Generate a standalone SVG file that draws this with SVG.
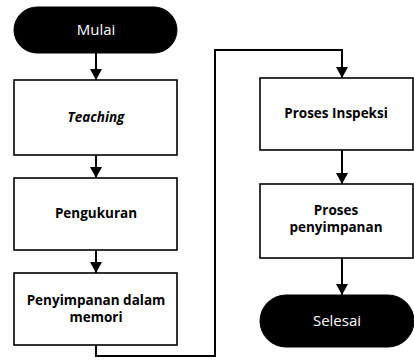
<svg xmlns="http://www.w3.org/2000/svg" width="414" height="360" viewBox="0 0 414 360">
<defs>
<marker id="ah" markerWidth="14" markerHeight="12" refX="11" refY="6" orient="auto" markerUnits="userSpaceOnUse">
<path d="M0,0 L11,6 L0,12 Z" fill="#000"/>
</marker>
<style>
.box{fill:#fff;stroke:#000;stroke-width:1.6}
.term{fill:#000;stroke:#000}
.t{font-family:"Open Sans","Liberation Sans",sans-serif;font-weight:bold;font-size:13.5px;text-anchor:middle;fill:#000}
.tw{font-family:"Open Sans","Liberation Sans",sans-serif;font-size:15px;text-anchor:middle;fill:#fff}
.c{fill:none;stroke:#000;stroke-width:2}
</style>
</defs>
<rect width="414" height="360" fill="#fff"/>
<g id="connectors">
<path class="c" d="M96,53 V80" marker-end="url(#ah)"/>
<path class="c" d="M96,155 V178" marker-end="url(#ah)"/>
<path class="c" d="M96,250 V273" marker-end="url(#ah)"/>
<path class="c" d="M96,345 V356 H215 V50 H342 V78" marker-end="url(#ah)"/>
<path class="c" d="M342,150 V184" marker-end="url(#ah)"/>
<path class="c" d="M342,258 V295" marker-end="url(#ah)"/>
</g>
<g id="mulai">
<rect class="term" x="14" y="7" width="163" height="46" rx="23"/>
<text class="tw" x="96" y="35">Mulai</text>
</g>
<g id="teaching">
<rect class="box" x="14" y="80" width="163" height="75"/>
<text class="t" x="96" y="122" font-style="italic">Teaching</text>
</g>
<g id="pengukuran">
<rect class="box" x="14" y="178" width="163" height="72"/>
<text class="t" x="96" y="218">Pengukuran</text>
</g>
<g id="penyimpanan">
<rect class="box" x="14" y="273" width="163" height="72"/>
<text class="t" x="96" y="305">Penyimpanan dalam</text>
<text class="t" x="96" y="322">memori</text>
</g>
<g id="inspeksi">
<rect class="box" x="260" y="78" width="153" height="72"/>
<text class="t" x="336" y="118">Proses Inspeksi</text>
</g>
<g id="proses-penyimpanan">
<rect class="box" x="260" y="184" width="153" height="74"/>
<text class="t" x="336" y="215">Proses</text>
<text class="t" x="336" y="232">penyimpanan</text>
</g>
<g id="selesai">
<rect class="term" x="260" y="295" width="154" height="52" rx="26"/>
<text class="tw" x="337" y="326">Selesai</text>
</g>
</svg>
